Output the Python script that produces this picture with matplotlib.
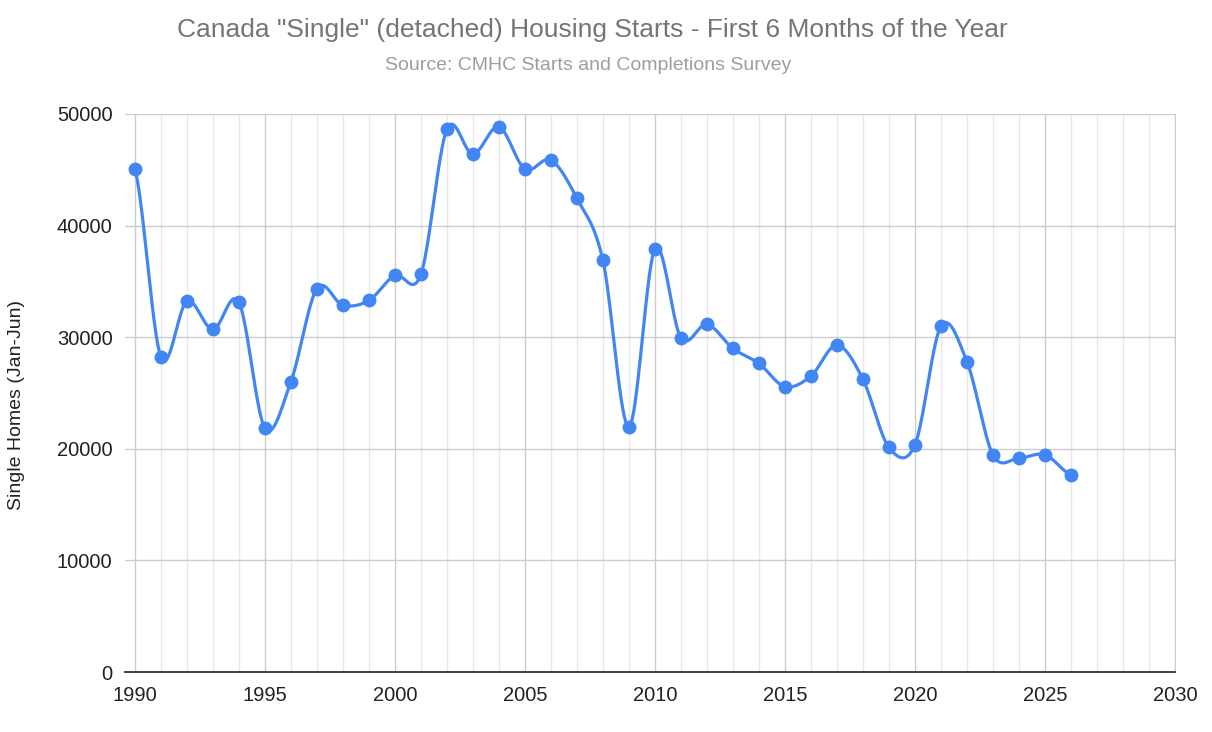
import numpy as np
import matplotlib
matplotlib.use("Agg")
import matplotlib.pyplot as plt
from matplotlib.ticker import MultipleLocator

years = list(range(1990, 2027))
starts = [45100, 28240, 33210, 30690, 33130, 21850, 26010, 34350, 32860, 33300,
          35540, 35630, 48630, 46400, 48840, 45060, 45860, 42440, 36880, 21990,
          37920, 29940, 31160, 28990, 27650, 25570, 26520, 29290, 26220, 20120,
          20360, 30980, 27800, 19460, 19170, 19460, 17680]

title = 'Canada "Single" (detached) Housing Starts - First 6 Months of the Year'
subtitle = "Source: CMHC Starts and Completions Survey"
ylabel = "Single Homes (Jan-Jun)"

plt.rcParams['font.family'] = ['Liberation Sans', 'DejaVu Sans']

BLUE = "#4285f4"

# Catmull-Rom style smoothing (like Google Charts curveType: function)
x = np.array(years, dtype=float)
y = np.array(starts, dtype=float)
n = len(x)
m = np.zeros(n)
m[1:-1] = (y[2:] - y[:-2]) / (x[2:] - x[:-2])
m[0] = (y[1] - y[0]) / (x[1] - x[0]) * 0.5
m[-1] = (y[-1] - y[-2]) / (x[-1] - x[-2]) * 0.5
xs, ys = [], []
for i in range(n - 1):
    h = x[i + 1] - x[i]
    t = np.linspace(0, 1, 40)
    h00 = 2 * t**3 - 3 * t**2 + 1
    h10 = t**3 - 2 * t**2 + t
    h01 = -2 * t**3 + 3 * t**2
    h11 = t**3 - t**2
    xs.append(x[i] + t * h)
    ys.append(h00 * y[i] + h10 * h * m[i] + h01 * y[i + 1] + h11 * h * m[i + 1])
xs = np.concatenate(xs)
ys = np.concatenate(ys)

fig = plt.figure(figsize=(12.12, 7.32), dpi=100)
ax = fig.add_axes([125 / 1212, 1 - 672 / 732, (1175 - 125) / 1212, (672 - 114) / 732])

ax.plot(xs, ys, color=BLUE, lw=2.3, zorder=3, solid_capstyle='round')
ax.plot(x, y, 'o', color=BLUE, ms=10, zorder=4, markeredgewidth=0)

ax.set_xlim(1989.62, 2030)
ax.set_ylim(0, 50000)
ax.xaxis.set_major_locator(MultipleLocator(5))
ax.xaxis.set_minor_locator(MultipleLocator(1))
ax.yaxis.set_major_locator(MultipleLocator(10000))
ax.grid(which='major', axis='x', color='#cccccc', lw=1)
ax.grid(which='minor', axis='x', color='#e8e8e8', lw=1)
ax.grid(which='major', axis='y', color='#cccccc', lw=1)
ax.set_axisbelow(True)

for s in ['top', 'left']:
    ax.spines[s].set_visible(False)
ax.spines['right'].set_color('#cccccc')
ax.spines['bottom'].set_color('#333333')
ax.spines['bottom'].set_linewidth(1.3)

ax.tick_params(axis='both', which='both', length=0, labelsize=14.5, colors='#222222')
ax.tick_params(axis='x', pad=10)
ax.tick_params(axis='y', pad=9)
ax.set_xticks(range(1990, 2031, 5))
ax.set_xticklabels([str(v) for v in range(1990, 2031, 5)])

ax.set_ylabel(ylabel, fontsize=14, color='#222222', va='center')
ax.yaxis.set_label_coords((17 - 125) / 1050, (672 - 405) / 558)

fig.text(592 / 1212, 1 - 30 / 732, title, ha='center', va='center', fontsize=19, color='#757575')
fig.text(588 / 1212, 1 - 66 / 732, subtitle, ha='center', va='center', fontsize=14, color='#9e9e9e')

fig.savefig("out.png", dpi=100, facecolor='white')
